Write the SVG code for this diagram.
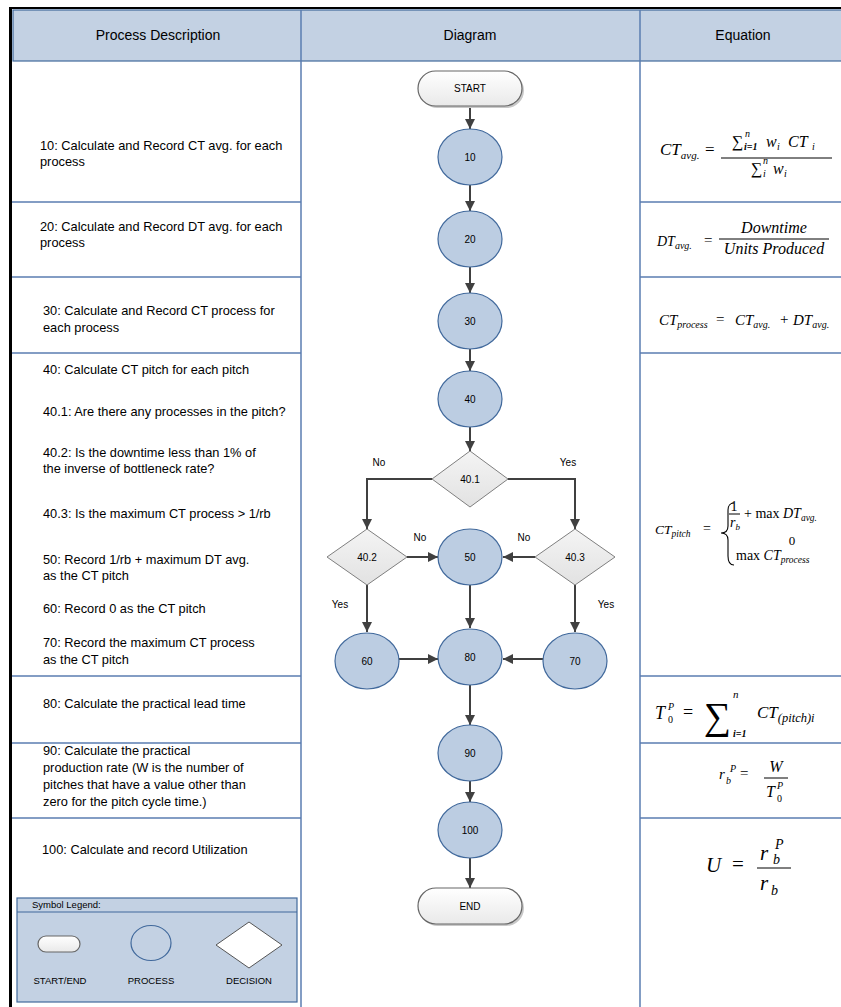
<svg xmlns="http://www.w3.org/2000/svg" width="841" height="1007" viewBox="0 0 841 1007">
<style>
.t{font-family:"Liberation Sans",Arial,sans-serif;font-size:12.8px;fill:#000}
.h{font-family:"Liberation Sans",Arial,sans-serif;font-size:14px;fill:#000;text-anchor:middle}
.n{font-family:"Liberation Sans",Arial,sans-serif;font-size:10px;fill:#000;text-anchor:middle}
.lg{font-family:"Liberation Sans",Arial,sans-serif;font-size:9.5px;fill:#000;text-anchor:middle}
.m{font-family:"Liberation Serif","DejaVu Serif",serif;font-style:italic;fill:#000}
.r{font-family:"Liberation Serif","DejaVu Serif",serif;font-style:normal;fill:#000}
.rl{stroke:#5a7db0;stroke-width:1.5}
.proc{fill:#bccde2;stroke:#41699c;stroke-width:1.2}
.dec{fill:url(#gd);stroke:#7f7f7f;stroke-width:1}
.se{fill:url(#gs);stroke:#666;stroke-width:1.2}
.sh{fill:#c8c8c8}
.c{fill:none;stroke:#404040;stroke-width:2;marker-end:url(#ah)}
.bar{stroke:#000;stroke-width:1}
</style>
<defs>
<linearGradient id="gd" x1="0" y1="0" x2="0" y2="1"><stop offset="0" stop-color="#f4f4f4"/><stop offset="1" stop-color="#e2e2e2"/></linearGradient>
<linearGradient id="gs" x1="0" y1="0" x2="0" y2="1"><stop offset="0" stop-color="#ffffff"/><stop offset="1" stop-color="#e9e9e9"/></linearGradient>
<marker id="ah" viewBox="0 0 10 10" refX="10" refY="5" markerWidth="10" markerHeight="10" markerUnits="userSpaceOnUse" orient="auto"><path d="M0,0 L10,5 L0,10 z" fill="#404040"/></marker>
</defs>
<rect width="841" height="1007" fill="#fff"/>

<g id="table">
<rect x="13" y="10" width="830" height="51" fill="#c3d1e3" stroke="#41699c" stroke-width="1.2"/>
<line x1="9" y1="8" x2="841" y2="8" stroke="#000" stroke-width="2"/>
<rect x="9" y="7" width="3" height="1000" fill="#000"/>
<line x1="301" y1="10" x2="301" y2="1007" class="rl"/>
<line x1="640" y1="10" x2="640" y2="1007" class="rl"/>
<line x1="12" y1="202" x2="301" y2="202" class="rl"/>
<line x1="12" y1="277" x2="301" y2="277" class="rl"/>
<line x1="12" y1="353" x2="301" y2="353" class="rl"/>
<line x1="12" y1="676" x2="301" y2="676" class="rl"/>
<line x1="12" y1="743" x2="301" y2="743" class="rl"/>
<line x1="12" y1="818" x2="301" y2="818" class="rl"/>
<line x1="640" y1="202" x2="841" y2="202" class="rl"/>
<line x1="640" y1="277" x2="841" y2="277" class="rl"/>
<line x1="640" y1="353" x2="841" y2="353" class="rl"/>
<line x1="640" y1="676" x2="841" y2="676" class="rl"/>
<line x1="640" y1="743" x2="841" y2="743" class="rl"/>
<line x1="640" y1="818" x2="841" y2="818" class="rl"/>
<text x="158" y="40" class="h">Process Description</text>
<text x="470" y="40" class="h">Diagram</text>
<text x="743" y="40" class="h">Equation</text>
</g>

<g id="descriptions">
<text x="40" y="150" class="t">10: Calculate and Record CT avg. for each</text>
<text x="40" y="166" class="t">process</text>
<text x="40" y="231" class="t">20: Calculate and Record DT avg. for each</text>
<text x="40" y="247" class="t">process</text>
<text x="43" y="315" class="t">30: Calculate and Record CT process for</text>
<text x="43" y="332" class="t">each process</text>
<text x="43" y="374" class="t">40: Calculate CT pitch for each pitch</text>
<text x="43" y="416" class="t">40.1: Are there any processes in the pitch?</text>
<text x="43" y="457" class="t">40.2: Is the downtime less than 1% of</text>
<text x="43" y="473" class="t">the inverse of  bottleneck rate?</text>
<text x="43" y="518" class="t">40.3: Is the maximum CT process &gt; 1/rb</text>
<text x="43" y="564" class="t">50: Record 1/rb + maximum DT avg.</text>
<text x="43" y="580" class="t">as the CT pitch</text>
<text x="43" y="613" class="t">60: Record 0 as the CT pitch</text>
<text x="43" y="647" class="t">70: Record the maximum CT process</text>
<text x="43" y="664" class="t">as the CT pitch</text>
<text x="43" y="708" class="t">80: Calculate the practical lead time</text>
<text x="43" y="755" class="t">90: Calculate the practical</text>
<text x="43" y="772" class="t">production rate (W is the number of</text>
<text x="43" y="789" class="t">pitches that have a value other than</text>
<text x="43" y="806" class="t">zero for the pitch cycle time.)</text>
<text x="42" y="854" class="t">100: Calculate and record Utilization</text>
</g>

<g id="legend">
<rect x="17" y="898" width="280" height="104" fill="#c3d1e3" stroke="#41699c" stroke-width="1.2"/>
<line x1="17" y1="912" x2="297" y2="912" stroke="#41699c" stroke-width="1.2"/>
<text x="32" y="908" class="t" style="font-size:9.5px">Symbol Legend:</text>
<rect x="38" y="936" width="42" height="16" rx="8" class="se"/>
<ellipse cx="151" cy="943" rx="20" ry="17.5" fill="#c3d1e3" stroke="#41699c" stroke-width="1.2"/>
<path d="M216,945 L249,922 L282,945 L249,968 Z" fill="#fff" stroke="#555" stroke-width="1"/>
<text x="60" y="984" class="lg">START/END</text>
<text x="151" y="984" class="lg">PROCESS</text>
<text x="249" y="984" class="lg">DECISION</text>
</g>

<g id="connectors">
<path class="c" d="M470,106 V129"/>
<path class="c" d="M470,185 V211"/>
<path class="c" d="M470,267 V293"/>
<path class="c" d="M470,349 V371"/>
<path class="c" d="M470,427 V451"/>
<path class="c" d="M432,479 H367 V529"/>
<path class="c" d="M508,479 H575 V529"/>
<path class="c" d="M407,557 H438"/>
<path class="c" d="M535,557 H503"/>
<path class="c" d="M367,585 V632"/>
<path class="c" d="M575,585 V632"/>
<path class="c" d="M470,585 V628"/>
<path class="c" d="M399,659 H438"/>
<path class="c" d="M543,659 H503"/>
<path class="c" d="M470,685 V725"/>
<path class="c" d="M470,781 V802"/>
<path class="c" d="M470,858 V888"/>
<text x="379" y="466" class="n">No</text>
<text x="568" y="466" class="n">Yes</text>
<text x="420" y="541" class="n">No</text>
<text x="524" y="541" class="n">No</text>
<text x="340" y="608" class="n">Yes</text>
<text x="606" y="608" class="n">Yes</text>
</g>

<g id="start">
<rect x="420" y="73" width="104" height="35" rx="17.5" class="sh"/>
<rect x="418" y="71" width="104" height="35" rx="17.5" class="se"/>
<text x="470" y="92" class="n">START</text>
</g>
<g id="p10"><ellipse cx="470" cy="157" rx="32" ry="28" class="proc"/><text x="470" y="161" class="n">10</text></g>
<g id="p20"><ellipse cx="470" cy="239" rx="32" ry="28" class="proc"/><text x="470" y="243" class="n">20</text></g>
<g id="p30"><ellipse cx="470" cy="321" rx="32" ry="28" class="proc"/><text x="470" y="325" class="n">30</text></g>
<g id="p40"><ellipse cx="470" cy="399" rx="32" ry="28" class="proc"/><text x="470" y="403" class="n">40</text></g>
<g id="d401"><path d="M432,479 L470,451 L508,479 L470,507 Z" class="dec"/><text x="470" y="483" class="n">40.1</text></g>
<g id="d402"><path d="M327,557 L367,529 L407,557 L367,585 Z" class="dec"/><text x="367" y="561" class="n">40.2</text></g>
<g id="d403"><path d="M535,557 L575,529 L615,557 L575,585 Z" class="dec"/><text x="575" y="561" class="n">40.3</text></g>
<g id="p50"><ellipse cx="470" cy="557" rx="32" ry="28" class="proc"/><text x="470" y="561" class="n">50</text></g>
<g id="p60"><ellipse cx="367" cy="661" rx="32" ry="28" class="proc"/><text x="367" y="665" class="n">60</text></g>
<g id="p70"><ellipse cx="575" cy="661" rx="32" ry="28" class="proc"/><text x="575" y="665" class="n">70</text></g>
<g id="p80"><ellipse cx="470" cy="657" rx="32" ry="28" class="proc"/><text x="470" y="661" class="n">80</text></g>
<g id="p90"><ellipse cx="470" cy="753" rx="32" ry="28" class="proc"/><text x="470" y="757" class="n">90</text></g>
<g id="p100"><ellipse cx="470" cy="830" rx="32" ry="28" class="proc"/><text x="470" y="834" class="n">100</text></g>
<g id="end">
<rect x="420" y="890" width="104" height="36" rx="18" class="sh"/>
<rect x="418" y="888" width="104" height="36" rx="18" class="se"/>
<text x="470" y="910" class="n">END</text>
</g>

<g id="equations">
<!-- eq1 -->
<text x="660" y="155" class="m" font-size="17">CT<tspan font-size="11" dy="4">avg.</tspan></text>
<text x="705" y="155" class="r" font-size="17">=</text>
<line x1="721" y1="158" x2="832" y2="158" class="bar"/>
<text x="732" y="147" class="r" font-size="16">∑</text>
<text x="745" y="137" class="m" font-size="10">n</text>
<text x="744" y="150" class="m" font-size="10" font-weight="bold">i=1</text>
<text x="766" y="147" class="m" font-size="16">w</text>
<text x="777" y="150" class="m" font-size="10">i</text>
<text x="788" y="147" class="m" font-size="16">CT</text>
<text x="812" y="150" class="m" font-size="10">i</text>
<text x="751" y="174" class="r" font-size="16">∑</text>
<text x="763" y="164" class="m" font-size="10">n</text>
<text x="763" y="177" class="m" font-size="10">i</text>
<text x="773" y="174" class="m" font-size="16">w</text>
<text x="784" y="177" class="m" font-size="10">i</text>
<!-- eq2 -->
<text x="657" y="246" class="m" font-size="14">DT<tspan font-size="10" dy="3">avg.</tspan></text>
<text x="704" y="245" class="r" font-size="15">=</text>
<line x1="719" y1="239" x2="829" y2="239" class="bar"/>
<text x="774" y="233" class="m" font-size="16" text-anchor="middle">Downtime</text>
<text x="774" y="254" class="m" font-size="16" text-anchor="middle">Units Produced</text>
<!-- eq3 -->
<text x="659" y="325" class="m" font-size="15">CT<tspan font-size="10" dy="3">process</tspan></text>
<text x="716" y="324" class="r" font-size="15">=</text>
<text x="735" y="325" class="m" font-size="15">CT<tspan font-size="10" dy="3">avg.</tspan></text>
<text x="780" y="324" class="r" font-size="15">+</text>
<text x="793" y="325" class="m" font-size="15">DT<tspan font-size="10" dy="3">avg.</tspan></text>
<!-- eq4 -->
<text x="655" y="534" class="m" font-size="13.5">CT<tspan font-size="9.5" dy="3">pitch</tspan></text>
<text x="703" y="533" class="r" font-size="14">=</text>
<path d="M734,503 C729,503 728,506 728,511 V526 C728,531 726,533 721,533 C726,533 728,535 728,540 V556 C728,561 729,565 734,565" fill="none" stroke="#000" stroke-width="1.1"/>
<text x="734" y="511" class="r" font-size="14" text-anchor="middle">1</text>
<line x1="729" y1="514" x2="740" y2="514" class="bar"/>
<text x="730" y="527" class="m" font-size="14">r<tspan font-size="9" dy="3">b</tspan></text>
<text x="744" y="518" class="r" font-size="14">+ max <tspan class="m">DT</tspan><tspan class="m" font-size="9.5" dy="3">avg.</tspan></text>
<text x="792" y="545" class="r" font-size="13" text-anchor="middle">0</text>
<text x="736" y="560" class="r" font-size="14">max <tspan class="m">CT</tspan><tspan class="m" font-size="9.5" dy="3">process</tspan></text>
<!-- eq5 -->
<text x="655" y="719" class="m" font-size="18">T</text>
<text x="668" y="710" class="m" font-size="10">P</text>
<text x="668" y="723" class="r" font-size="10">0</text>
<text x="683" y="718" class="r" font-size="18">=</text>
<text x="704" y="729" class="r" font-size="38">∑</text>
<text x="733" y="698" class="m" font-size="11">n</text>
<text x="733" y="737" class="m" font-size="10" font-weight="bold">i=1</text>
<text x="757" y="718" class="m" font-size="17">CT<tspan font-size="12.5" dy="4">(pitch)i</tspan></text>
<!-- eq6 -->
<text x="719" y="779" class="m" font-size="15">r</text>
<text x="730" y="772" class="m" font-size="10">P</text>
<text x="726" y="784" class="m" font-size="10">b</text>
<text x="740" y="778" class="r" font-size="15">=</text>
<text x="776" y="772" class="m" font-size="16" text-anchor="middle">W</text>
<line x1="764" y1="778" x2="788" y2="778" class="bar"/>
<text x="766" y="797" class="m" font-size="16">T</text>
<text x="777" y="789" class="m" font-size="10">P</text>
<text x="777" y="802" class="r" font-size="10">0</text>
<!-- eq7 -->
<text x="706" y="872" class="m" font-size="21">U</text>
<text x="732" y="871" class="r" font-size="21">=</text>
<text x="760" y="860" class="m" font-size="21">r</text>
<text x="773" y="864" class="m" font-size="14">b</text>
<text x="775" y="849" class="m" font-size="14">P</text>
<line x1="757" y1="868" x2="791" y2="868" class="bar"/>
<text x="760" y="890" class="m" font-size="21">r</text>
<text x="771" y="895" class="m" font-size="14">b</text>
</g>
</svg>
